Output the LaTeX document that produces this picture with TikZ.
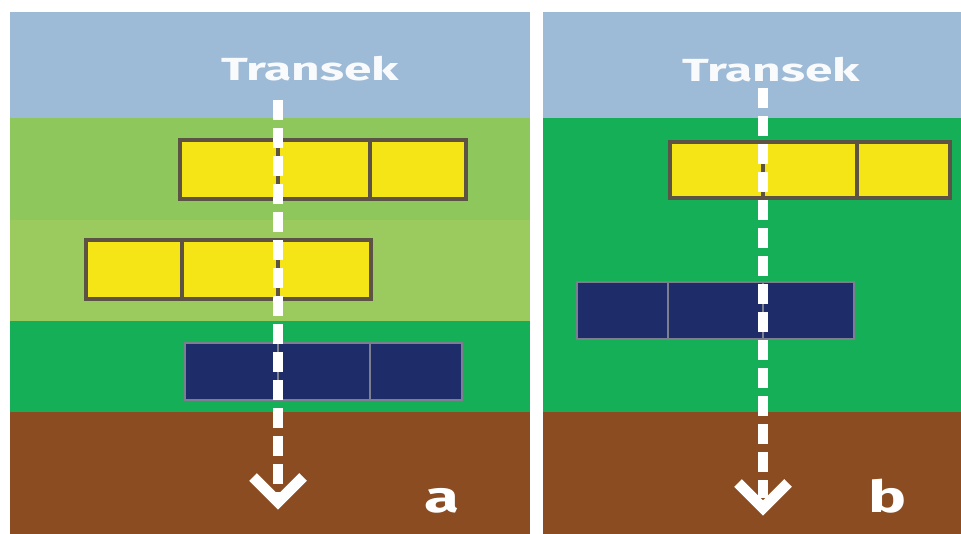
\documentclass[tikz,border=0pt]{standalone}
\usepackage{fontspec}
\setmainfont{Fira Sans}
\definecolor{sky}{HTML}{9DBAD6}
\definecolor{lgreenA}{HTML}{8EC75B}
\definecolor{lgreenB}{HTML}{9BCB5E}
\definecolor{dgreen}{HTML}{14AF56}
\definecolor{soil}{HTML}{8A4C20}
\definecolor{yel}{HTML}{F5E516}
\definecolor{navy}{HTML}{1F2C6A}
\definecolor{ybord}{HTML}{5C5344}
\definecolor{nbord}{HTML}{7C7F8E}
\begin{document}
\begin{tikzpicture}[x=0.75pt,y=-0.75pt,
  ycell/.style={fill=yel,draw=ybord,line width=2.7pt},
  ycut/.style={draw=ybord,line width=2.7pt},
  ncell/.style={fill=navy,draw=nbord,line width=2.2pt},
  ncut/.style={draw=nbord,line width=2.2pt},
  transect/.style={draw=white,line width=7.5pt,dash pattern=on 15pt off 6pt},
  chevron/.style={draw=white,line width=8pt,miter limit=10},
  title/.style={text=white,opacity=0.93,font=\bfseries\fontsize{24}{27}\selectfont,xscale=1.55,anchor=base},
  panellabel/.style={text=white,font=\bfseries\fontsize{33}{36}\selectfont,xscale=1.45,anchor=base}]
\useasboundingbox (0,0) rectangle (961,534);
\fill[white] (0,0) rectangle (961,534);
% left panel background
\fill[sky] (10,12) rectangle (530,118);
\fill[lgreenA] (10,118) rectangle (530,220);
\fill[lgreenB] (10,220) rectangle (530,321);
\fill[dgreen] (10,321) rectangle (530,412);
\fill[soil] (10,412) rectangle (530,534);
% right panel background
\fill[sky] (543,12) rectangle (961,118);
\fill[dgreen] (543,118) rectangle (961,412);
\fill[soil] (543,412) rectangle (961,534);
% left boxes
\draw[ycell] (180,140) rectangle (466,199);
\draw[ycut] (278,140) -- (278,199) (370,140) -- (370,199);
\draw[ycell] (86,240) rectangle (371,299);
\draw[ycut] (182,240) -- (182,299) (278,240) -- (278,299);
\draw[ncell] (185,343) rectangle (462,400);
\draw[ncut] (278,343) -- (278,400) (370,343) -- (370,400);
% right boxes
\draw[ycell] (670,142) rectangle (950,198);
\draw[ycut] (763,142) -- (763,198) (857,142) -- (857,198);
\draw[ncell] (577,282) rectangle (854,339);
\draw[ncut] (668,282) -- (668,339) (763,282) -- (763,339);
% transects
\coordinate (ta0) at (278,100);
\coordinate (ta1) at (278,494);
\coordinate (tb0) at (763,88);
\coordinate (tb1) at (763,498);
\draw[transect] (ta0) -- (ta1);
\draw[transect] (tb0) -- (tb1);
\coordinate (ha) at (278,502);
\coordinate (hb) at (763,508);
\draw[chevron] ([shift={(-25,-25)}]ha) -- (ha) -- ([shift={(25,-25)}]ha);
\draw[chevron] ([shift={(-25,-25)}]hb) -- (hb) -- ([shift={(25,-25)}]hb);
% labels
\node[title] (lta) at (310,81) {Transek};
\node[title] (ltb) at (771,82) {Transek};
\node[panellabel] (la) at (442,513) {a};
\node[panellabel] (lb) at (888,513) {b};
\end{tikzpicture}
\end{document}
